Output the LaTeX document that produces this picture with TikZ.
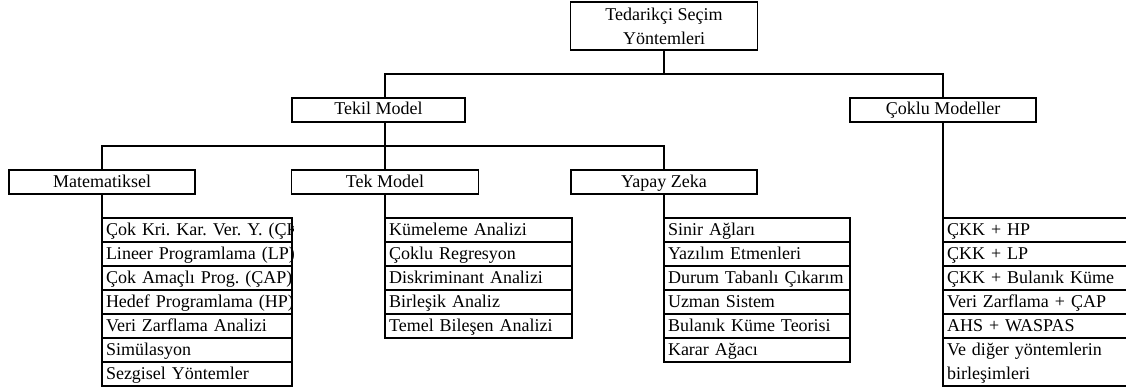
\documentclass[tikz,border=0pt]{standalone}
\usepackage{fontspec}
\setmainfont{Liberation Serif}
\tikzset{
  basebox/.style={draw, line width=1.2pt, outer sep=0pt, inner ysep=0pt,
    text height=13pt, text depth=3pt, font=\fontsize{18}{24}\selectfont\frenchspacing},
  head/.style={basebox, fill=white, minimum height=24pt, inner xsep=0pt, align=center},
  item/.style={basebox, anchor=north west, minimum height=24pt, inner xsep=4pt, align=left},
  link/.style={line width=1.2pt},
}
\begin{document}
\begin{tikzpicture}[x=1pt,y=-1pt]
\useasboundingbox (0,0) rectangle (1126,390);
\clip (0,0) rectangle (1126,390);

% headers
\node[head, minimum width=187pt, minimum height=48pt, text height=38pt, text depth=1pt] (top) at (664,26) {Tedarikçi Seçim\\Yöntemleri};
\node[head, minimum width=173pt] (tekil) at (378.5,110) {Tekil Model};
\node[head, minimum width=186pt] (coklu) at (943,110) {Çoklu Modeller};
\node[head, minimum width=186pt] (mat) at (102,182) {Matematiksel};
\node[head, minimum width=187pt] (tek) at (385,182) {Tek Model};
\node[head, minimum width=186pt] (yz) at (664,182) {Yapay Zeka};

% Matematiksel list (clipped text)
\begin{scope}
\clip (101,217) rectangle (293,387);
\node[item, text width=182pt] (m1) at (102,218) {\mbox{Çok Kri. Kar. Ver. Y. (ÇKK)}};
\node[item, text width=182pt] (m2) at (m1.south west) {\mbox{Lineer Programlama (LP)}};
\node[item, text width=182pt] (m3) at (m2.south west) {\mbox{Çok Amaçlı Prog. (ÇAP)}};
\node[item, text width=182pt] (m4) at (m3.south west) {\mbox{Hedef Programlama (HP)}};
\node[item, text width=182pt] (m5) at (m4.south west) {\mbox{Veri Zarflama Analizi}};
\node[item, text width=182pt] (m6) at (m5.south west) {\mbox{Simülasyon}};
\node[item, text width=182pt] (m7) at (m6.south west) {\mbox{Sezgisel Yöntemler}};
\end{scope}

% Tek Model list
\node[item, text width=179pt] (k1) at (385,218) {Kümeleme Analizi};
\node[item, text width=179pt] (k2) at (k1.south west) {Çoklu Regresyon};
\node[item, text width=179pt] (k3) at (k2.south west) {Diskriminant Analizi};
\node[item, text width=179pt] (k4) at (k3.south west) {Birleşik Analiz};
\node[item, text width=179pt] (k5) at (k4.south west) {Temel Bileşen Analizi};

% Yapay Zeka list
\node[item, text width=178pt] (y1) at (664,218) {Sinir Ağları};
\node[item, text width=178pt] (y2) at (y1.south west) {Yazılım Etmenleri};
\node[item, text width=178pt] (y3) at (y2.south west) {Durum Tabanlı Çıkarım};
\node[item, text width=178pt] (y4) at (y3.south west) {Uzman Sistem};
\node[item, text width=178pt] (y5) at (y4.south west) {Bulanık Küme Teorisi};
\node[item, text width=178pt] (y6) at (y5.south west) {Karar Ağacı};

% Coklu list
\node[item, text width=182pt] (c1) at (943,218) {ÇKK + HP};
\node[item, text width=182pt] (c2) at (c1.south west) {ÇKK + LP};
\node[item, text width=182pt] (c3) at (c2.south west) {ÇKK + Bulanık Küme};
\node[item, text width=182pt] (c4) at (c3.south west) {Veri Zarflama + ÇAP};
\node[item, text width=182pt] (c5) at (c4.south west) {AHS + WASPAS};
\node[item, text width=182pt, minimum height=48pt, text depth=27pt] (c6) at (c5.south west) {Ve diğer yöntemlerin\\birleşimleri};

% connectors
\coordinate (j1) at (664,74);
\coordinate (j2) at (385,146);
\draw[link] (top.south) -- (j1);
\draw[link] ([xshift=6.5pt]tekil.north) |- (j1) -| (coklu.north);
\draw[link] ([xshift=6.5pt]tekil.south) -- (tek.north);
\draw[link] (mat.north) |- (j2) -| (yz.north);
\draw[link] (mat.south) -- (m1.north west);
\draw[link] (tek.south) -- (k1.north west);
\draw[link] (yz.south) -- (y1.north west);
\draw[link] (coklu.south) -- (c1.north west);
\end{tikzpicture}
\end{document}
